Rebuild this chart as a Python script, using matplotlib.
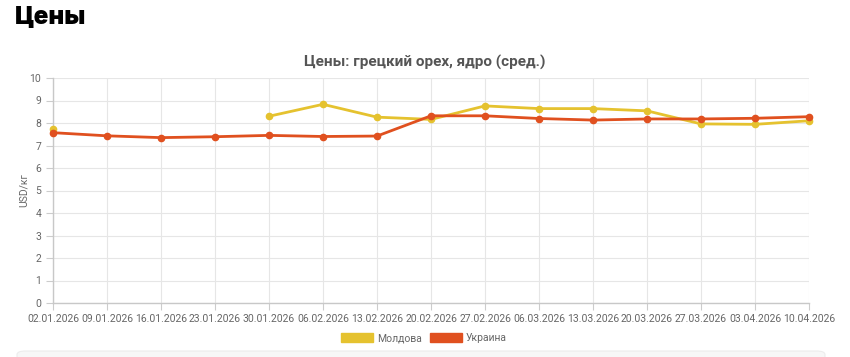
import matplotlib.pyplot as plt
from matplotlib.patches import Patch, FancyBboxPatch

dates = ["02.01.2026", "09.01.2026", "16.01.2026", "23.01.2026", "30.01.2026",
         "06.02.2026", "13.02.2026", "20.02.2026", "27.02.2026", "06.03.2026",
         "13.03.2026", "20.03.2026", "27.03.2026", "03.04.2026", "10.04.2026"]
# None = no price reported that week
moldova = [7.72, None, None, None, 8.30, 8.83, 8.26, 8.16, 8.76, 8.64,
           8.64, 8.54, 7.96, 7.94, 8.10]
ukraine = [7.57, 7.43, 7.35, 7.39, 7.45, 7.40, 7.42, 8.32, 8.32, 8.20,
           8.13, 8.18, 8.18, 8.21, 8.28]

c_md = "#e5c22f"
c_ua = "#e0501f"
grey = "#666666"

plt.rcParams["font.family"] = ["Roboto", "DejaVu Sans"]

fig = plt.figure(figsize=(8.5, 3.57), dpi=100)
ax = fig.add_axes([53 / 850, 1 - 303 / 357, (809 - 53) / 850, (303 - 78) / 357])

x = list(range(len(dates)))

# Moldova: split into connected segments around gaps
seg_x, seg_y = [], []
for i, v in enumerate(moldova):
    if v is None:
        if seg_x:
            ax.plot(seg_x, seg_y, color=c_md, lw=2, marker="o", ms=4.5, zorder=3, clip_on=False)
        seg_x, seg_y = [], []
    else:
        seg_x.append(i)
        seg_y.append(v)
if seg_x:
    ax.plot(seg_x, seg_y, color=c_md, lw=2, marker="o", ms=4.5, zorder=3, clip_on=False)

ax.plot(x, ukraine, color=c_ua, lw=2, marker="o", ms=4.5, zorder=4, clip_on=False)

ax.set_xlim(0, len(dates) - 1)
ax.set_ylim(0, 10)
ax.set_yticks(range(0, 11))
ax.set_xticks(x)
ax.set_xticklabels(dates)
ax.tick_params(axis="both", colors="#cccccc", labelcolor=grey, labelsize=7.5, length=5, width=0.8)
ax.tick_params(axis="x", pad=3)
ax.grid(True, color="#e6e6e6", lw=0.8)
ax.set_axisbelow(True)
for s in ["top", "right"]:
    ax.spines[s].set_visible(False)
for s in ["left", "bottom"]:
    ax.spines[s].set_color("#c8c8c8")
    ax.spines[s].set_linewidth(1)
ax.set_ylabel("USD/кг", color=grey, fontsize=7.5)
ax.yaxis.set_label_coords(-0.032, 0.5)

fig.text(15 / 850, 1 - 18 / 357, "Цены", fontsize=17.5, fontweight="black",
         family=["Inter", "DejaVu Sans"], va="center", ha="left", color="#000000")
fig.text(425 / 850, 1 - 62 / 357, "Цены: грецкий орех, ядро (сред.)", fontsize=11,
         fontweight="bold", color="#555555", ha="center", va="center")

handles = [Patch(facecolor=c_md, edgecolor=c_md, label="Молдова"),
           Patch(facecolor=c_ua, edgecolor=c_ua, label="Украина")]
fig.legend(handles=handles, loc="center", bbox_to_anchor=(424 / 850, 1 - 338 / 357),
           ncol=2, frameon=False, fontsize=7.5, labelcolor=grey, handlelength=3.1,
           handleheight=1.05, columnspacing=0.7, handletextpad=0.4)

# edge of the next card at the bottom of the page
card = FancyBboxPatch((17 / 850, -0.05), (825 - 17) / 850, 0.05 + 6 / 357,
                      boxstyle="round,pad=0,rounding_size=0.01", transform=fig.transFigure,
                      facecolor="#f7f7f7", edgecolor="#ececec", lw=0.8)
fig.patches.append(card)

fig.savefig("out.png", dpi=100)
